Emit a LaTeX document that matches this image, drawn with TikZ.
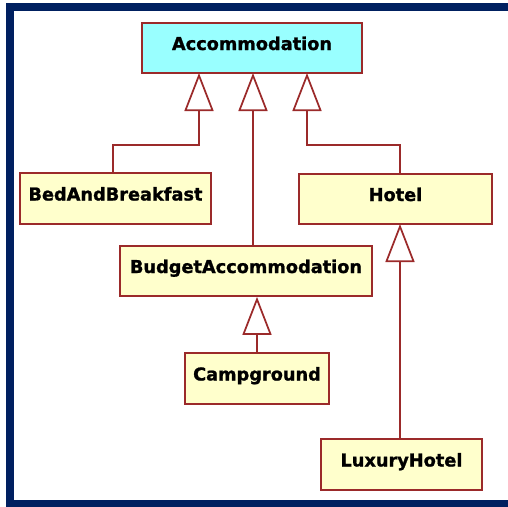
\documentclass[tikz,border=0pt]{standalone}
\usepackage{fontspec}
\setmainfont{DejaVu Sans}[BoldFeatures={FakeBold=1.2}]
\usetikzlibrary{arrows.meta}
\definecolor{umlred}{RGB}{155,42,42}
\definecolor{clsyellow}{RGB}{255,255,204}
\definecolor{clscyan}{RGB}{153,255,255}
\definecolor{framenavy}{RGB}{0,32,96}
\begin{document}
\begin{tikzpicture}[x=0.75pt,y=-0.75pt,
  cls/.style={rectangle, draw=umlred, line width=1.3pt, fill=clsyellow,
    inner sep=0pt, text height=15pt, text depth=12pt, minimum height=37.5pt,
    font=\fontsize{13.3}{16}\selectfont\bfseries},
  gen/.style={draw=umlred, line width=1.3pt,
    -{Triangle[length=28.5pt,width=21.75pt,fill=white]}}]
  \useasboundingbox (0,0) rectangle (508,507);
  % frame bars
  \fill[framenavy] (6,3) rectangle (508,11);
  \fill[framenavy] (6,3) rectangle (14,507);
  \fill[framenavy] (6,500) rectangle (508,507);

  % classes
  \node[cls, fill=clscyan, minimum width=165pt] (acc) at (252,48) {Accommodation};
  \node[cls, minimum width=143.25pt, minimum height=38.25pt] (bnb) at (115.5,198.5) {BedAndBreakfast};
  \node[cls, minimum width=144.75pt] (hotel) at (395.5,199) {Hotel};
  \node[cls, minimum width=189pt] (budget) at (246,271) {BudgetAccommodation};
  \node[cls, minimum width=108pt, minimum height=38.25pt] (camp) at (257,378.5) {Campground};
  \node[cls, minimum width=120.75pt, minimum height=38.25pt] (lux) at (401.5,464.5) {LuxuryHotel};

  % entry points on the superclass
  \coordinate (a1) at (199,73);
  \coordinate (a2) at (253,73);
  \coordinate (a3) at (307,73);
  \coordinate (h1) at (400,224);

  % generalizations
  \draw[gen] ([xshift=-2pt]bnb.north) -- ++(0,-27) -| (a1);
  \draw[gen] (budget.north -| a2) -- (a2);
  \draw[gen] (hotel.north -| h1) -- ++(0,-28) -| (a3);
  \draw[gen] (lux.north -| h1) -- (h1);
  \draw[gen] (camp.north) -- (camp.north |- budget.south);
\end{tikzpicture}
\end{document}
